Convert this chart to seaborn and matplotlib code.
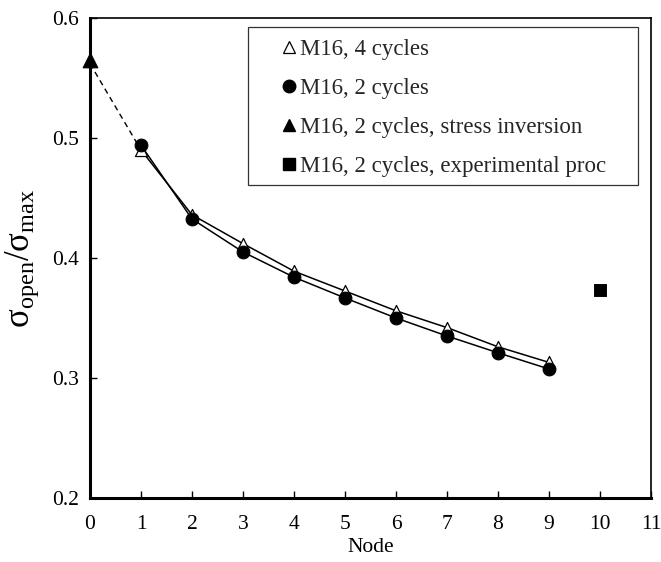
import matplotlib
matplotlib.use("Agg")
import matplotlib.pyplot as plt
import seaborn as sns
import pandas as pd
from matplotlib.lines import Line2D
from matplotlib.patches import Rectangle

sns.set_theme(style="white")
plt.rcParams['font.family'] = ['Liberation Serif', 'DejaVu Serif']
plt.rcParams['mathtext.fontset'] = 'stix'

nodes = [1, 2, 3, 4, 5, 6, 7, 8, 9]
four_cycles = [0.490, 0.436, 0.412, 0.389, 0.3725, 0.356, 0.342, 0.326, 0.313]
two_cycles = [0.494, 0.4325, 0.405, 0.384, 0.3667, 0.350, 0.335, 0.321, 0.3075]
inv_node = [0]
inv_val = [0.565]
exp_node = [10]
exp_val = [0.373]
dash_nodes = [0, 1]
dash_vals = [0.562, 0.490]

labels = ["M16, 4 cycles", "M16, 2 cycles",
          "M16, 2 cycles, stress inversion", "M16, 2 cycles, experimental proc"]

W, H = 661, 562
L, R, T, B = 90, 651, 18, 498
fig = plt.figure(figsize=(W / 100, H / 100), dpi=100)
ax = fig.add_axes([L / W, 1 - B / H, (R - L) / W, (B - T) / H])

df4 = pd.DataFrame({"node": nodes, "val": four_cycles})
df2 = pd.DataFrame({"node": nodes, "val": two_cycles})
dfd = pd.DataFrame({"node": dash_nodes, "val": dash_vals})

sns.lineplot(data=dfd, x="node", y="val", ax=ax, color="black", lw=1.0,
             linestyle=(0, (4, 3)))
sns.lineplot(data=df4, x="node", y="val", ax=ax, color="black", lw=1.1)
sns.lineplot(data=df2, x="node", y="val", ax=ax, color="black", lw=1.1)
sns.scatterplot(data=df4, x="node", y="val", ax=ax, marker="^", s=75,
                facecolor="white", edgecolor="black", linewidth=0.9, zorder=5)
sns.scatterplot(data=df2, x="node", y="val", ax=ax, marker="o", s=85,
                color="black", edgecolor="black", zorder=6)
sns.scatterplot(x=inv_node, y=inv_val, ax=ax, marker="^", s=110,
                color="black", edgecolor="black", zorder=6, clip_on=False)
sns.scatterplot(x=exp_node, y=exp_val, ax=ax, marker="s", s=70,
                color="black", edgecolor="black", zorder=6)

ax.set_xlim(0, 11)
ax.set_ylim(0.2, 0.6)
ax.set_xticks(range(0, 12))
ax.set_yticks([0.2, 0.3, 0.4, 0.5, 0.6])
ax.set_yticklabels(["0.2", "0.3", "0.4", "0.5", "0.6"])
ax.tick_params(direction="in", length=5, width=1.0, labelsize=15.5, colors="black",
               left=True, bottom=True)
ax.tick_params(axis="y", pad=8)
ax.tick_params(axis="x", pad=12)
ax.set_xlabel("Node", fontsize=15.5, color="black", labelpad=3)
ax.set_ylabel(r"$\mathregular{σ_{open}/σ_{max}}$", fontsize=25,
              color="black", labelpad=8)
for s in ["left", "bottom"]:
    ax.spines[s].set_linewidth(2.2)
for s in ["top", "right"]:
    ax.spines[s].set_linewidth(1.2)
for s in ax.spines.values():
    s.set_color("black")

# legend frame box
lx0, lx1, ly0, ly1 = 248, 638, 27, 185
ax.add_patch(Rectangle(((lx0 - L) / (R - L), (B - ly1) / (B - T)),
                       (lx1 - lx0) / (R - L), (ly1 - ly0) / (B - T),
                       transform=ax.transAxes, fill=True, facecolor="white",
                       edgecolor="#333333", linewidth=0.9, zorder=7))

handles = [
    Line2D([], [], marker="^", ls="none", mfc="white", mec="black", ms=9, mew=0.9),
    Line2D([], [], marker="o", ls="none", mfc="black", mec="black", ms=9),
    Line2D([], [], marker="^", ls="none", mfc="black", mec="black", ms=9),
    Line2D([], [], marker="s", ls="none", mfc="black", mec="black", ms=8),
]
leg = ax.legend(handles, labels, loc="upper left",
                bbox_to_anchor=((281 - L) / (R - L), (B - 39) / (B - T)),
                fontsize=16.5, frameon=False, handlelength=0.7,
                handletextpad=0.15, labelspacing=0.79, borderpad=0.0,
                borderaxespad=0.0)
leg.set_zorder(8)

fig.savefig("out.png", dpi=100)
